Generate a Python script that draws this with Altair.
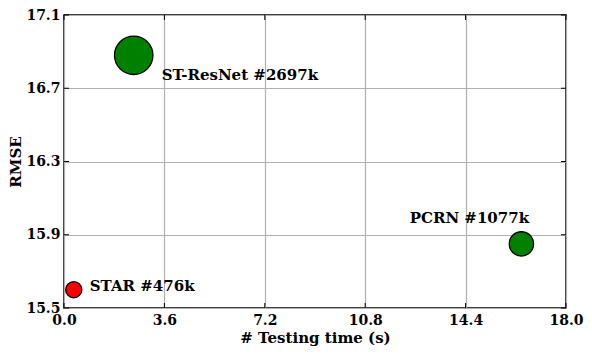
import altair as alt
import pandas as pd

models = ["STAR", "ST-ResNet", "PCRN"]
test_time = [0.35, 2.5, 16.4]
rmse = [15.6, 16.88, 15.85]
params_k = [476, 2697, 1077]
colors = ["#ff0000", "#008000", "#008000"]
labels = ["STAR #476k", "ST-ResNet #2697k", "PCRN #1077k"]

x_ticks = [0.0, 3.6, 7.2, 10.8, 14.4, 18.0]
y_ticks = [15.5, 15.9, 16.3, 16.7, 17.1]

W, H = 502, 293
FONT = "DejaVu Serif"

df = pd.DataFrame({"model": models, "time": test_time, "rmse": rmse,
                   "params": params_k, "color": colors, "label": labels})
xt = pd.DataFrame({"v": x_ticks})
yt = pd.DataFrame({"v": y_ticks})

xs = alt.Scale(domain=[0, 18], nice=False, zero=False)
ys = alt.Scale(domain=[15.5, 17.1], nice=False, zero=False)

base = alt.Chart(df)

points = base.mark_point(filled=True, opacity=1, stroke="black", strokeWidth=1.3, shape="circle").encode(
    x=alt.X("time:Q", scale=xs, title="# Testing time (s)",
            axis=alt.Axis(values=x_ticks, format=".1f")),
    y=alt.Y("rmse:Q", scale=ys, title="RMSE",
            axis=alt.Axis(values=y_ticks, format=".1f")),
    size=alt.Size("params:Q", scale=alt.Scale(domain=[0, 2697], range=[0, 1480]), legend=None),
    fill=alt.Fill("color:N", scale=None),
)

def label_layer(name, dx, dy, align):
    return base.transform_filter(alt.datum.model == name).mark_text(
        font=FONT, fontWeight="bold", fontSize=15, color="black",
        align=align, baseline="middle", dx=dx, dy=dy
    ).encode(x=alt.X("time:Q", scale=xs), y=alt.Y("rmse:Q", scale=ys), text="label:N")

lab1 = label_layer("STAR", 16, -4, "left")
lab2 = label_layer("ST-ResNet", 28, 20, "left")
lab3 = label_layer("PCRN", -52, -26, "center")

tick_len = 5
yl = alt.Chart(yt).mark_rule(color="black", strokeWidth=1).encode(
    y=alt.Y("v:Q", scale=ys), x=alt.value(0), x2=alt.value(tick_len))
yr = alt.Chart(yt).mark_rule(color="black", strokeWidth=1).encode(
    y=alt.Y("v:Q", scale=ys), x=alt.value(W - tick_len), x2=alt.value(W))
xb = alt.Chart(xt).mark_rule(color="black", strokeWidth=1).encode(
    x=alt.X("v:Q", scale=xs), y=alt.value(H), y2=alt.value(H - tick_len))
xtp = alt.Chart(xt).mark_rule(color="black", strokeWidth=1).encode(
    x=alt.X("v:Q", scale=xs), y=alt.value(0), y2=alt.value(tick_len))

chart = alt.layer(yl, yr, xb, xtp, points, lab1, lab2, lab3).properties(
    width=W, height=H,
    autosize=alt.AutoSizeParams(type="none"),
    padding={"left": 56, "top": 7, "right": 18, "bottom": 46},
).configure(
    font=FONT
).configure_view(
    stroke="black", strokeWidth=1.5
).configure_axis(
    grid=True, gridColor="#b0b0b0", gridWidth=1.2,
    domain=False, ticks=False, labelFlush=False,
    labelFont=FONT, labelFontWeight="bold", labelFontSize=14, labelColor="black",
    titleFont=FONT, titleFontWeight="bold", titleFontSize=15, titleColor="black",
).configure_axisX(
    labelPadding=5, titlePadding=3
).configure_axisY(
    labelPadding=4, titlePadding=2
)

chart.save("out.html", embed_options={"renderer": "svg", "actions": False})
